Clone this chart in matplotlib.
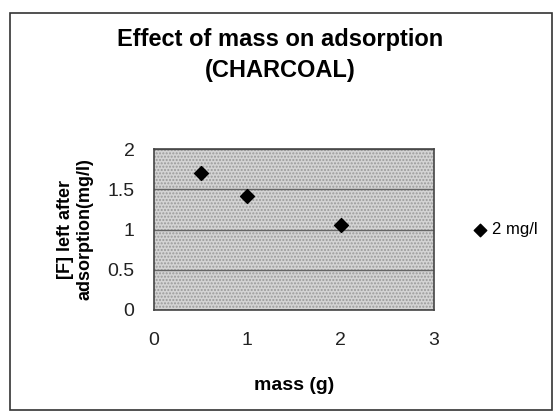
import matplotlib.pyplot as plt
from matplotlib.patches import Rectangle

plt.rcParams['font.family'] = ['Liberation Sans', 'DejaVu Sans']

# data
mass = [0.5, 1.0, 2.0]
fluoride_left = [1.70, 1.42, 1.06]
series_label = '2 mg/l'
y_ticks = [0, 0.5, 1, 1.5, 2]
x_ticks = [0, 1, 2, 3]

fig = plt.figure(figsize=(5.6, 4.2), dpi=100, facecolor='white')

# outer chart border
fig.add_artist(Rectangle((0.018, 0.025), 0.968, 0.945, transform=fig.transFigure,
                         fill=False, edgecolor='#333333', linewidth=1.2))

ax = fig.add_axes([0.275, 0.262, 0.5, 0.383])
ax.set_facecolor('#d4d4d4')
ax.add_patch(Rectangle((0, 0), 1, 1, transform=ax.transAxes, fill=False,
                       hatch='.....', edgecolor='#9a9a9a', linewidth=0, zorder=0))

ax.scatter(mass, fluoride_left, marker='D', s=50, color='black', zorder=3, label=series_label)

ax.set_xlim(0, 3)
ax.set_ylim(0, 2)
ax.set_xticks(x_ticks)
ax.set_yticks(y_ticks)
ax.set_yticklabels(['0', '0.5', '1', '1.5', '2'])
ax.tick_params(labelsize=14, colors='#222222', length=0)
ax.tick_params(axis='x', pad=16)
ax.tick_params(axis='y', pad=14)
ax.yaxis.grid(True, color='#666666', linewidth=1)
ax.set_axisbelow(True)
for s in ax.spines.values():
    s.set_color('#444444')
    s.set_linewidth(1.2)

ax.set_xlabel('mass (g)', fontsize=14, fontweight='bold', labelpad=20)
ax.set_ylabel('[F] left after\nadsorption(mg/l)', fontsize=13, fontweight='bold', labelpad=10)

fig.text(0.5, 0.905, 'Effect of mass on adsorption', ha='center', va='center',
         fontsize=17, fontweight='bold')
fig.text(0.5, 0.833, '(CHARCOAL)', ha='center', va='center',
         fontsize=17, fontweight='bold')

ax.legend(loc='center left', bbox_to_anchor=(1.075, 0.5), frameon=False,
          fontsize=12, handletextpad=0.1, handlelength=1.2, markerscale=0.9)

fig.savefig('out.png', dpi=100)
